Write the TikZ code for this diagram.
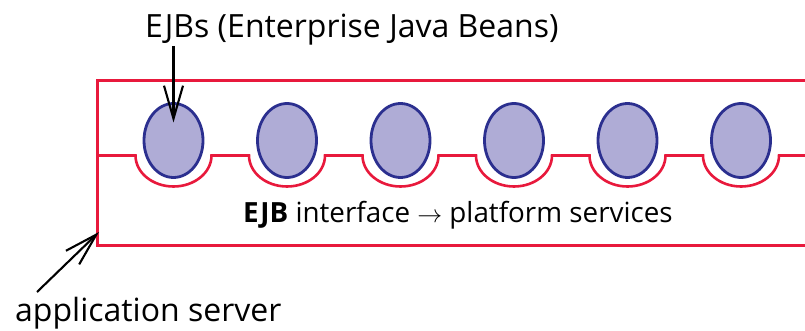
\documentclass[tikz,border=0pt]{standalone}
\usepackage{fontspec}
\setmainfont{Open Sans}
\usetikzlibrary{arrows.meta,calc,shapes.geometric}
\definecolor{srvred}{HTML}{E8193C}
\definecolor{beanfill}{HTML}{AFACD6}
\definecolor{beanline}{HTML}{2B2F8F}
\tikzset{
  server/.style={draw=srvred, line width=2.6pt},
  bean/.style={ellipse, draw=beanline, fill=beanfill, line width=2.8pt,
    minimum width=59pt, minimum height=74pt, inner sep=0pt},
  pointer/.style={draw=black, line width=2.1pt,
    -{Straight Barb[length=33pt, width=19pt, line width=2.1pt]}},
  lbl/.style={font=\fontsize{32}{36}\selectfont, inner sep=0pt},
  midlbl/.style={font=\fontsize{27.8}{32}\selectfont, inner sep=0pt}
}
\begin{document}
\begin{tikzpicture}[x=1pt, y=-1pt]
  \useasboundingbox (0,0) rectangle (805,331);
  % outer frame of the application server (open on the right)
  \draw[server] (806,80.5) -- (97.5,80.5) -- (97.5,245.5) -- (806,245.5);
  % interface line with a socket under each bean
  \draw[server] (97.5,155.5)
    \foreach \cx in {173.5,287,400.5,514,627.5,741} {
      -- (\cx-38,155.5) arc[start angle=180, end angle=0, x radius=38, y radius=31]
    } -- (806,155.5);
  % the beans
  \foreach \i/\cx in {1/173.5,2/287,3/400.5,4/514,5/627.5,6/741}
    \node[bean] (b\i) at (\cx,140.5) {};
  % labels
  \node[lbl, anchor=base west] (ejbs) at (145,38) {EJBs (Enterprise Java Beans)};
  \node[midlbl, anchor=base west] (iface) at (243,222) {\textbf{EJB} interface $\rightarrow$ platform services};
  \node[lbl, anchor=base west] (appsrv) at (15,321) {application server};
  \coordinate (corner) at (99,232);
  \coordinate (appfoot) at (37,292);
  \coordinate (beantip) at ($(b1.center)+(0,-18)$);
  % pointers
  \draw[pointer] (ejbs.south -| b1) -- (beantip);
  \draw[pointer] (appfoot) -- (corner);
\end{tikzpicture}
\end{document}
